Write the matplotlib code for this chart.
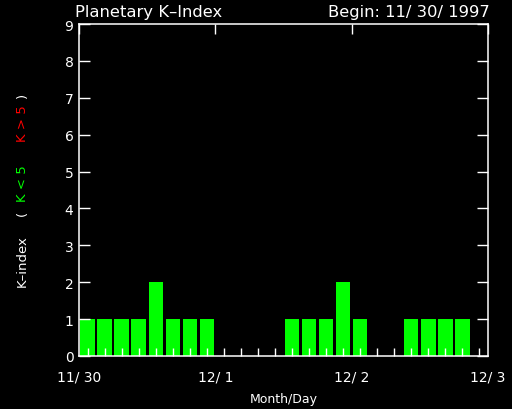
import matplotlib
matplotlib.use('Agg')
from matplotlib import pyplot as plt

# 3-hour planetary K-index, 8 intervals per day
k_values = [1, 1, 1, 1, 2, 1, 1, 1,
            0, 0, 0, 0, 1, 1, 1, 2,
            1, 0, 0, 1, 1, 1, 1, 0]
day_labels = ['11/ 30', '12/ 1', '12/ 2', '12/ 3']
y_ticks = list(range(0, 10))

fig = plt.figure(figsize=(5.12, 4.10), dpi=100, facecolor='black')
ax = fig.add_axes([79 / 512, 53 / 410, 409 / 512, 332 / 410], facecolor='black')

# bars: green below storm level, red at K >= 5
colors = ['#00ff00' if k < 5 else '#ff0000' for k in k_values]
x = [i + 0.5 for i in range(len(k_values))]
ax.bar(x, k_values, width=0.84, color=colors, zorder=1)

ax.set_xlim(0, len(k_values))
ax.set_ylim(0, 9)

for s in ax.spines.values():
    s.set_color('white')
    s.set_linewidth(1.1)
    s.set_zorder(3)

ax.set_xticks(range(0, len(k_values) + 1, 8))
ax.set_xticklabels(day_labels)
ax.set_xticks(x, minor=True)
ax.tick_params(axis='x', which='major', direction='in', length=7, width=1,
               color='white', bottom=False, top=True, labelbottom=True,
               labelcolor='white', labelsize=10, pad=10)
ax.tick_params(axis='x', which='minor', direction='in', length=6, width=1,
               color='white', bottom=True, top=False)
ax.set_yticks(y_ticks)
ax.tick_params(axis='y', direction='in', length=8, width=1, color='white',
               left=True, right=True, labelcolor='white', labelsize=10, pad=4)
for t in ax.xaxis.get_ticklines(minor=True):
    t.set_zorder(4)

ax.set_xlabel('Month/Day', color='white', fontsize=9, labelpad=6)

fig.text(75 / 512, 1 - 13 / 410, 'Planetary K–Index', color='white',
         fontsize=11.8, ha='left', va='center')
fig.text(490 / 512, 1 - 13 / 410, 'Begin: 11/ 30/ 1997', color='white',
         fontsize=11.8, ha='right', va='center')

# multi-coloured y label
ylab = [('K–index', 'white', 261), ('(', 'white', 213), ('K < 5', '#00ff00', 184),
        ('K > 5', '#ff0000', 124), (')', 'white', 95)]
for txt, c, ypix in ylab:
    fig.text(22 / 512, 1 - ypix / 410, txt, color=c, fontsize=9.5,
             rotation=90, ha='center', va='center')

plt.savefig('out.png', dpi=100, facecolor='black')
